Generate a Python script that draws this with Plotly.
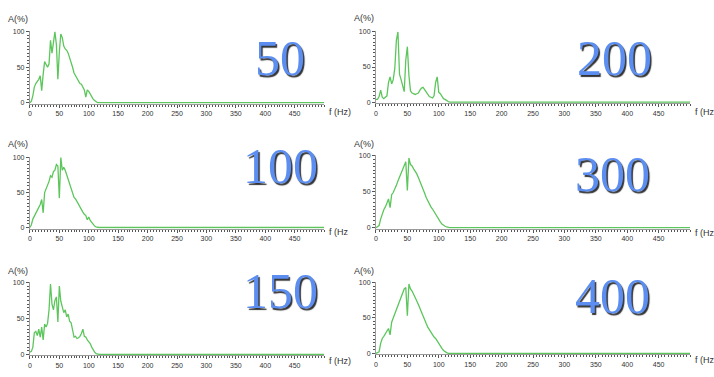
import plotly.graph_objects as go

W, H = 714, 377

FREQ = [0, 2.5, 5, 7.5, 10, 12.5, 15, 17.5, 20, 22.5, 25, 27.5, 30, 32.5, 35, 37.5,
        40, 42.5, 45, 47.5, 50, 52.5, 55, 57.5, 60, 62.5, 65, 67.5, 70, 72.5, 75, 77.5,
        80, 82.5, 85, 87.5, 90, 92.5, 95, 97.5, 100, 102.5, 105, 107.5, 110, 112.5,
        115, 117.5, 120, 500]

A_50 = [0, 2, 10, 22, 27, 30, 33, 38, 17, 40, 58, 54, 50, 55, 88, 70,
        90, 100, 82, 33, 72, 97, 92, 80, 76, 74, 70, 64, 55, 50, 42, 38,
        33, 30, 27, 26, 22, 18, 8, 18, 16, 12, 8, 5, 3, 1,
        0, 0, 0, 0]
A_200 = [4, 4, 8, 17, 7, 5, 7, 9, 28, 36, 26, 32, 48, 88, 100, 40,
         32, 22, 15, 60, 79, 38, 16, 13, 12, 11, 12, 13, 17, 20, 21, 18,
         15, 11, 8, 7, 6, 9, 28, 36, 14, 12, 9, 5, 4, 2,
         1, 0, 0, 0]
A_100 = [0, 4, 12, 16, 20, 24, 27, 33, 40, 21, 50, 55, 60, 66, 74, 72,
         80, 82, 90, 88, 42, 100, 82, 86, 82, 75, 69, 62, 55, 50, 43, 41,
         37, 32, 29, 25, 22, 19, 17, 11, 15, 10, 7, 4, 2, 1,
         0, 0, 0, 0]
A_300 = [0, 1, 3, 12, 20, 25, 29, 34, 40, 28, 46, 49, 53, 59, 65, 70,
         75, 80, 86, 92, 52, 97, 88, 86, 82, 79, 75, 70, 65, 60, 54, 48,
         42, 37, 33, 29, 26, 22, 19, 15, 10, 8, 5, 3, 2, 1,
         0, 0, 0, 0]
A_150 = [3, 4, 10, 30, 32, 26, 35, 24, 38, 20, 42, 38, 43, 62, 98, 70,
         62, 75, 80, 45, 95, 74, 66, 58, 62, 52, 56, 46, 44, 32, 24, 25,
         22, 23, 25, 29, 35, 25, 24, 20, 18, 15, 10, 6, 3, 1,
         0, 0, 0, 0]
A_400 = [0, 1, 2, 14, 21, 24, 28, 31, 35, 26, 44, 50, 56, 61, 67, 73,
         79, 85, 91, 93, 53, 98, 91, 88, 84, 79, 74, 69, 63, 57, 51, 46,
         42, 37, 33, 29, 26, 23, 21, 17, 14, 10, 7, 4, 2, 1,
         0, 0, 0, 0]

LABELS = ["50", "200", "100", "300", "150", "400"]
SERIES = [A_50, A_200, A_100, A_300, A_150, A_400]
X_TICKS = [0, 50, 100, 150, 200, 250, 300, 350, 400, 450]
Y_TICKS = [0, 50, 100]
F_TEXT = ["f (Hz)", "f (Hz", "f (Hz", "f (Hz", "f (Hz)", "f (Hz"]

# panel geometry in pixels: (x0, x500, y100, y0)
PANELS = [
    (28, 323, 29.3, 101.0),
    (375, 690, 29.3, 100.5),
    (28, 323, 156.7, 227.5),
    (375, 690, 155.0, 227.7),
    (28, 323, 283.3, 356.0),
    (375, 690, 283.3, 355.0),
]
NUM_POS = [(279, 56), (614, 56), (279, 165), (612, 173), (279, 292), (612, 297)]
FLABEL_Y = [110, 110, 232, 233, 363, 362]
ALABEL_Y = [16, 15, 143, 143, 272, 272]

GREEN = "#5cc65c"
AXC = "#9a9a9a"
TICKC = "#555555"
TXT = "#333333"
SERIF = "Liberation Serif, Times New Roman, serif"

fig = go.Figure()
YLO, YHI = -1.5, 101.0

for i, (vals, lab) in enumerate(zip(SERIES, LABELS)):
    x0, x1, y100, y0 = PANELS[i]
    s = (y0 - y100) / 100.0
    top = y100 - (YHI - 100) * s
    bot = y0 - YLO * s
    xa = "xaxis" if i == 0 else f"xaxis{i+1}"
    ya = "yaxis" if i == 0 else f"yaxis{i+1}"
    xr = "x" if i == 0 else f"x{i+1}"
    yr = "y" if i == 0 else f"y{i+1}"
    fig.add_trace(go.Scatter(x=FREQ, y=vals, mode="lines",
                             line=dict(color=GREEN, width=1.3),
                             xaxis=xr, yaxis=yr, showlegend=False,
                             hoverinfo="skip"))
    fig.update_layout(**{
        xa: dict(domain=[x0 / W, x1 / W], range=[0, 500], anchor=yr,
                 showgrid=False, zeroline=False, showline=True, linecolor=AXC,
                 linewidth=1, ticks="outside", ticklen=3, tickcolor=TICKC,
                 tickvals=X_TICKS, ticktext=[str(v) for v in X_TICKS],
                 tickfont=dict(family="Liberation Sans", size=7, color=TXT),
                 minor=dict(dtick=5, tick0=0, ticks="outside", ticklen=2,
                            tickcolor=TICKC, tickwidth=1, showgrid=False),
                 fixedrange=True),
        ya: dict(domain=[1 - bot / H, 1 - top / H], range=[YLO, YHI], anchor=xr,
                 showgrid=False, zeroline=False, showline=True, linecolor=AXC,
                 linewidth=1, ticks="outside", ticklen=3, tickcolor=TICKC,
                 tickvals=Y_TICKS, ticktext=[str(v) for v in Y_TICKS],
                 tickfont=dict(family="Liberation Sans", size=7, color=TXT),
                 minor=dict(dtick=5, tick0=0, ticks="outside", ticklen=2,
                            tickcolor=TICKC, tickwidth=1, showgrid=False),
                 fixedrange=True),
    })
    fig.add_annotation(xref="paper", yref="paper", x=x0 / W, y=1 - ALABEL_Y[i] / H,
                       xanchor="right", yanchor="middle", showarrow=False,
                       text="A(%)", font=dict(family="Liberation Sans", size=9, color=TXT))
    fig.add_annotation(xref="paper", yref="paper", x=(x1 + 3) / W, y=1 - FLABEL_Y[i] / H,
                       xanchor="left", yanchor="middle", showarrow=False,
                       text=F_TEXT[i], font=dict(family="Liberation Sans", size=9, color=TXT))
    cx, cy = NUM_POS[i]
    fig.add_annotation(xref="paper", yref="paper", x=cx / W, y=1 - cy / H,
                       xanchor="center", yanchor="middle", showarrow=False,
                       text=lab,
                       font=dict(family=SERIF, size=50, color="#5b8ef0",
                                 shadow="1.5px 1.5px 1px rgba(0,0,0,0.8)"))

fig.update_layout(width=W, height=H, margin=dict(l=0, r=0, t=0, b=0),
                  paper_bgcolor="white", plot_bgcolor="white", hovermode=False)

fig.write_html("out.html",
               config={"displayModeBar": False, "staticPlot": True},
               post_script="document.body.style.margin='0px';"
                           "document.body.style.overflow='hidden';")
